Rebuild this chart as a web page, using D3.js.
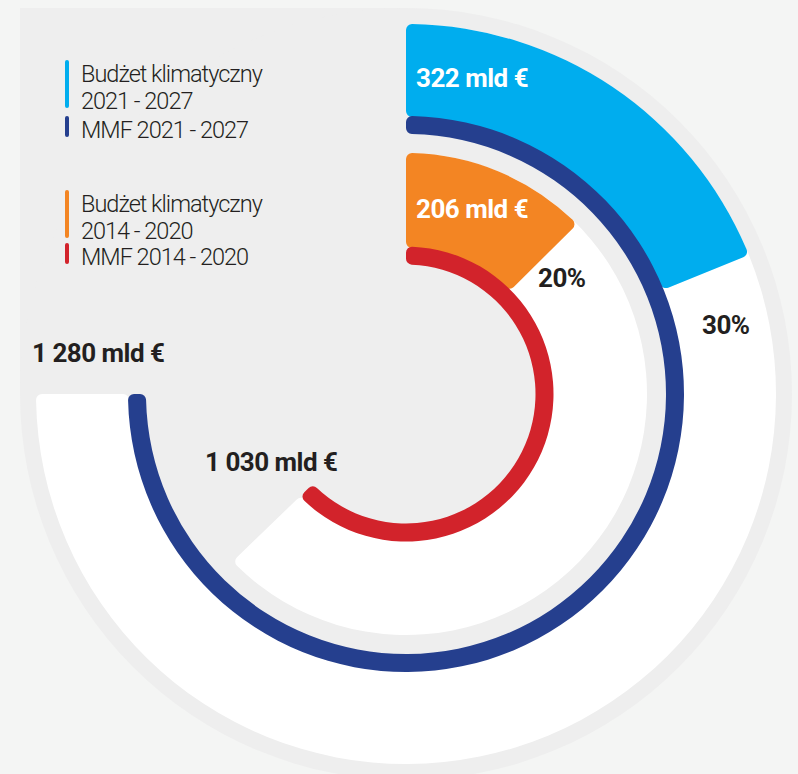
<!DOCTYPE html>
<html>
<head>
<meta charset="utf-8">
<script src="https://cdn.jsdelivr.net/npm/d3@7"></script>
<style>
  html, body { margin: 0; padding: 0; background: #f4f5f4; }
  svg { display: block; font-family: Roboto, "Liberation Sans", sans-serif; }
</style>
</head>
<body>
<svg id="chart"></svg>
<script>
// data
const periods = ["2021 - 2027", "2014 - 2020"];
const mmfTotals = [1280, 1030];          // mld €
const climateBudget = [322, 206];        // mld €
const climateShare = ["30%", "20%"];
const totalLabels = ["1 280 mld €", "1 030 mld €"];
const climateLabels = ["322 mld €", "206 mld €"];
const legendLabels = [
    ["Budżet klimatyczny", "2021 - 2027"], ["MMF 2021 - 2027"],
    ["Budżet klimatyczny", "2014 - 2020"], ["MMF 2014 - 2020"]
];

const colors = {
    climate: ["#00adee", "#f38523"],
    mmf: ["#253f8e", "#d2232b"],
    grey: "#eeeeee",
    text: "#231f20"
};

const width = 798, height = 774;
const cx = 406, cy = 394;

// each ring has its own sweep (outer ring 3/4 of the circle)
const ringSpan = [270, 226];
const rings = [
    { band: [277, 370], line: [260, 278] },
    { band: [146, 241], line: [129.5, 147.5] }
];

const svg = d3.select("#chart")
    .attr("width", width)
    .attr("height", height);

// grey backdrop: circle + square top-left quadrant
svg.append("rect")
    .attr("x", 20)
    .attr("y", 8)
    .attr("width", cx - 20)
    .attr("height", cy - 8)
    .attr("fill", colors.grey);
svg.append("circle")
    .attr("cx", cx)
    .attr("cy", cy)
    .attr("r", 386)
    .attr("fill", colors.grey);

const g = svg.append("g")
    .attr("transform", `translate(${cx}, ${cy})`);

const rad = d => d * Math.PI / 180;

periods.forEach((p, i) => {
    const angle = d3.scaleLinear()
        .domain([0, mmfTotals[i]])
        .range([0, rad(ringSpan[i])]);

    const band = d3.arc()
        .innerRadius(rings[i].band[0])
        .outerRadius(rings[i].band[1])
        .cornerRadius(6);

    const line = d3.arc()
        .innerRadius(rings[i].line[0])
        .outerRadius(rings[i].line[1])
        .cornerRadius(6);

    // white background of the whole period
    g.append("path")
        .attr("d", band({ startAngle: 0, endAngle: angle(mmfTotals[i]) }))
        .attr("fill", "#ffffff");

    // climate part
    g.append("path")
        .attr("d", band({ startAngle: 0, endAngle: angle(climateBudget[i]) }))
        .attr("fill", colors.climate[i]);

    // MMF total line
    g.append("path")
        .attr("d", line({ startAngle: 0, endAngle: angle(mmfTotals[i]) }))
        .attr("fill", colors.mmf[i]);
});

// value labels
const labelStyle = (sel, color) => sel
    .attr("fill", color)
    .attr("font-size", 26)
    .attr("font-weight", 700)
    .attr("letter-spacing", -0.5);

svg.append("text").attr("x", 416).attr("y", 87).text(climateLabels[0]).call(labelStyle, "#ffffff");
svg.append("text").attr("x", 416).attr("y", 218).text(climateLabels[1]).call(labelStyle, "#ffffff");
svg.append("text").attr("x", 702).attr("y", 334).text(climateShare[0]).call(labelStyle, colors.text);
svg.append("text").attr("x", 538).attr("y", 287).text(climateShare[1]).call(labelStyle, colors.text);
svg.append("text").attr("x", 32).attr("y", 362).text(totalLabels[0]).call(labelStyle, colors.text);
svg.append("text").attr("x", 205).attr("y", 471).text(totalLabels[1]).call(labelStyle, colors.text);

// legend
const legendColors = [colors.climate[0], colors.mmf[0], colors.climate[1], colors.mmf[1]];
const legendTops = [60, 116, 190, 243];
const lineH = 27;

legendLabels.forEach((lines, i) => {
    const y0 = legendTops[i];
    svg.append("rect")
        .attr("x", 65)
        .attr("y", y0)
        .attr("width", 4)
        .attr("height", lines.length * lineH - 6)
        .attr("rx", 2)
        .attr("fill", legendColors[i]);

    lines.forEach((t, j) => {
        svg.append("text")
            .attr("x", 81)
            .attr("y", y0 + 22 + j * lineH)
            .attr("fill", colors.text)
            .attr("font-size", 23.5)
            .attr("font-weight", 300)
            .attr("letter-spacing", -1)
            .text(t);
    });
});
</script>
</body>
</html>
